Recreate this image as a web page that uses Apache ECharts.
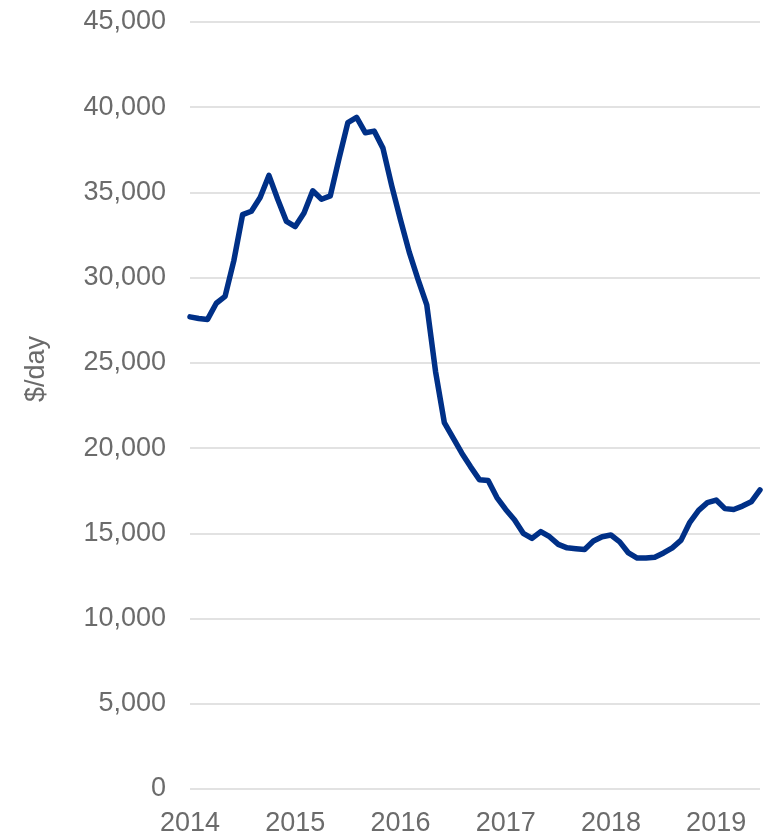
<!DOCTYPE html>
<html>
<head>
<meta charset="utf-8">
<script src="https://cdn.jsdelivr.net/npm/echarts@6/dist/echarts.min.js"></script>
<style>
  html, body { margin: 0; padding: 0; background: #ffffff; }
  #chart { width: 770px; height: 837px; }
</style>
</head>
<body>
<div id="chart"></div>
<script>
// Monthly categories, Jan 2014 to Jun 2019
const years = ['2014', '2015', '2016', '2017', '2018', '2019'];
const months = ['01', '02', '03', '04', '05', '06', '07', '08', '09', '10', '11', '12'];
const categories = [];
years.forEach(function (y) {
  months.forEach(function (m) {
    if (y === '2019' && Number(m) > 6) return;
    categories.push(y + '-' + m);
  });
});

// Charter rate, $/day
const rates2014 = [27700, 27600, 27550, 28500, 28900, 31000, 33700, 33900, 34700, 36000, 34600, 33300];
const rates2015 = [33000, 33800, 35100, 34600, 34800, 37000, 39100, 39400, 38500, 38600, 37600, 35400];
const rates2016 = [33400, 31500, 29900, 28400, 24500, 21500, 20600, 19700, 18900, 18150, 18100, 17100];
const rates2017 = [16400, 15800, 15000, 14700, 15100, 14800, 14350, 14150, 14100, 14050, 14550, 14800];
const rates2018 = [14900, 14500, 13850, 13550, 13550, 13600, 13850, 14150, 14600, 15650, 16350, 16800];
const rates2019 = [16950, 16450, 16400, 16600, 16850, 17550];
const rates = [].concat(rates2014, rates2015, rates2016, rates2017, rates2018, rates2019);

const yTicks = { min: 0, max: 45000, interval: 5000 };
const axisName = '$/day';

const textColor = '#6b6b6b';
const fontFamily = 'Liberation Sans, Arial, sans-serif';

const chart = echarts.init(document.getElementById('chart'), null, { renderer: 'canvas' });
chart.setOption({
  animation: false,
  backgroundColor: '#ffffff',
  grid: { left: 190, right: 10, top: 22, bottom: 48, containLabel: false },
  graphic: [{
    type: 'text',
    x: 37,
    y: 369,
    rotation: Math.PI / 2,
    style: {
      text: axisName,
      fill: textColor,
      font: '27px ' + fontFamily,
      textAlign: 'center',
      textVerticalAlign: 'middle'
    }
  }],
  xAxis: {
    type: 'category',
    data: categories,
    boundaryGap: false,
    axisLine: { show: false },
    axisTick: { show: false },
    splitLine: { show: false },
    axisLabel: {
      interval: function (i) { return i % 12 === 0; },
      formatter: function (v) { return v.slice(0, 4); },
      color: textColor,
      fontSize: 27,
      fontFamily: fontFamily,
      margin: 21
    }
  },
  yAxis: {
    type: 'value',
    min: yTicks.min,
    max: yTicks.max,
    interval: yTicks.interval,
    axisLine: { show: false },
    axisTick: { show: false },
    splitLine: { lineStyle: { color: '#d9d9d9', width: 1.5 } },
    axisLabel: {
      color: textColor,
      fontSize: 27,
      fontFamily: fontFamily,
      margin: 24,
      formatter: function (v) { return v.toLocaleString('en-US'); }
    }
  },
  series: [{
    type: 'line',
    data: rates,
    symbol: 'none',
    smooth: false,
    lineStyle: { color: '#003087', width: 5.5, join: 'round', cap: 'round' }
  }]
});
</script>
</body>
</html>
